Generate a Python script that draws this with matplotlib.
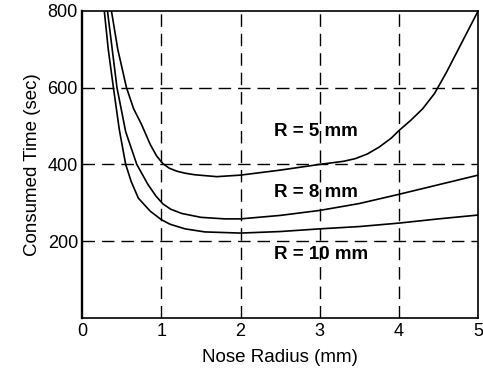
import numpy as np
import matplotlib.pyplot as plt

plt.rcParams['font.family'] = ['Liberation Sans', 'DejaVu Sans']

# values
r5_x = [0.37, 0.45, 0.56, 0.65, 0.75, 0.86, 0.94, 1.02, 1.1, 1.2, 1.3, 1.42, 1.7, 2.0, 2.5, 3.0, 3.3, 3.45, 3.6, 3.75, 3.9, 4.0, 4.15, 4.3, 4.45, 4.6, 4.8, 5.0]
r5_y = [800, 700, 600, 545, 504, 452, 422, 402, 390, 382, 377, 373, 368, 372, 385, 400, 408, 415, 427, 445, 468, 488, 515, 545, 585, 640, 720, 800]

r8_x = [0.32, 0.38, 0.44, 0.55, 0.69, 0.83, 0.93, 1.02, 1.12, 1.26, 1.5, 1.8, 2.0, 2.5, 3.0, 3.5, 4.0, 4.5, 5.0]
r8_y = [800, 700, 600, 485, 400, 348, 318, 297, 283, 272, 262, 258, 258, 267, 280, 298, 322, 347, 372]

r10_x = [0.28, 0.33, 0.395, 0.47, 0.55, 0.62, 0.71, 0.86, 1.0, 1.11, 1.3, 1.55, 2.0, 2.5, 3.0, 3.5, 4.0, 4.5, 5.0]
r10_y = [800, 700, 600, 490, 400, 355, 312, 278, 256, 244, 232, 224, 221, 225, 232, 238, 247, 258, 268]

labels = ["R = 5 mm", "R = 8 mm", "R = 10 mm"]
label_x = [2.95, 2.95, 3.02]
label_y = [486, 327, 166]

fig = plt.figure(figsize=(4.83, 3.74), dpi=100)
ax = fig.add_axes([0.170, 0.150, 0.820, 0.821])

for xs, ys in [(r5_x, r5_y), (r8_x, r8_y), (r10_x, r10_y)]:
    ax.plot(xs, ys, color='black', lw=1.2, solid_joinstyle='round')

for xv in [1, 2, 3, 4]:
    ax.axvline(xv, color='black', lw=1.0, dashes=(9, 5))
for yv in [200, 400, 600]:
    ax.axhline(yv, color='black', lw=1.0, dashes=(9, 5))

for t, tx, ty in zip(labels, label_x, label_y):
    ax.text(tx, ty, t, fontsize=13.5, fontweight='bold', ha='center', va='center')

ax.set_xlim(0, 5)
ax.set_ylim(0, 800)
ax.set_xticks([0, 1, 2, 3, 4, 5])
ax.set_yticks([200, 400, 600, 800])
ax.tick_params(length=0, labelsize=13)
ax.tick_params(axis='x', pad=4)
ax.tick_params(axis='y', pad=3)
for s in ax.spines.values():
    s.set_linewidth(1.2)
ax.spines['left'].set_linewidth(1.7)
ax.set_xlabel("Nose Radius (mm)", fontsize=13.5, labelpad=6)
ax.set_ylabel("Consumed Time (sec)", fontsize=13.5, labelpad=5)

fig.savefig("out.png", dpi=100)
